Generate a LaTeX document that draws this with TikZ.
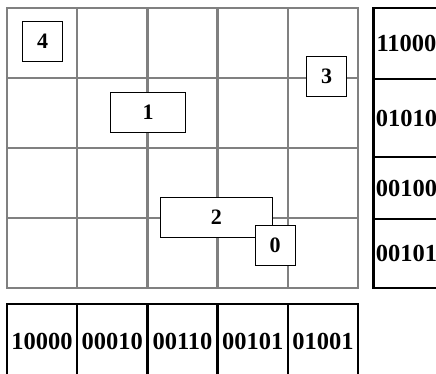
\documentclass[tikz,border=0pt]{standalone}
\usepackage{fontspec}
\setmainfont{Liberation Serif}
\usetikzlibrary{positioning}
\definecolor{gridgray}{RGB}{128,128,128}

\begin{document}
\begin{tikzpicture}[x=1pt,y=-1pt,font=\fontsize{24.5}{28}\selectfont\bfseries,
  gridline/.style={draw=gridgray,line width=2.4pt},
  cell/.style={draw,line width=2.4pt,minimum width=70.2pt,inner sep=0pt},
  tag/.style={draw,fill=white,line width=0.9pt,minimum width=40pt,minimum height=40pt,
    inner sep=0pt,font=\fontsize{22}{26}\selectfont\bfseries}]
\clip (0,0) rectangle (436,373);
% grid of the plane
\foreach \i in {1,...,4} \draw[gridline] (7+70.2*\i,8) -- (7+70.2*\i,288);
\foreach \j in {1,...,3} \draw[gridline] (7,8+70*\j) -- (358,8+70*\j);
\draw[gridline] (7,8) rectangle (358,288);
% bottom table
\foreach \t [count=\k] in {10000,00010,00110,00101,01001}
  \node[cell,minimum height=74pt] (b\k) at (7+70.2*\k-35.1,341) {\t};
% right table
\tikzset{rcell/.style={cell,minimum width=66pt}}
\node[rcell,minimum height=71pt] (r1) at (406.5,43.5) {11000};
\node[rcell,minimum height=78pt] (r2) at (406.5,118) {01010};
\node[rcell,minimum height=62pt] (r3) at (406.5,188) {00100};
\node[rcell,minimum height=69pt] (r4) at (406.5,253.5) {00101};
% rectangles
\node[tag] (t4) at (42.7,41.7) {4};
\node[tag,minimum width=74.6pt] (t1) at (148,112) {1};
\node[tag] (t3) at (326.7,76.7) {3};
\node[tag,minimum width=112.7pt] (t2) at (216.3,217.3) {2};
\node[tag] (t0) at (275,245.3) {0};
\end{tikzpicture}
\end{document}
